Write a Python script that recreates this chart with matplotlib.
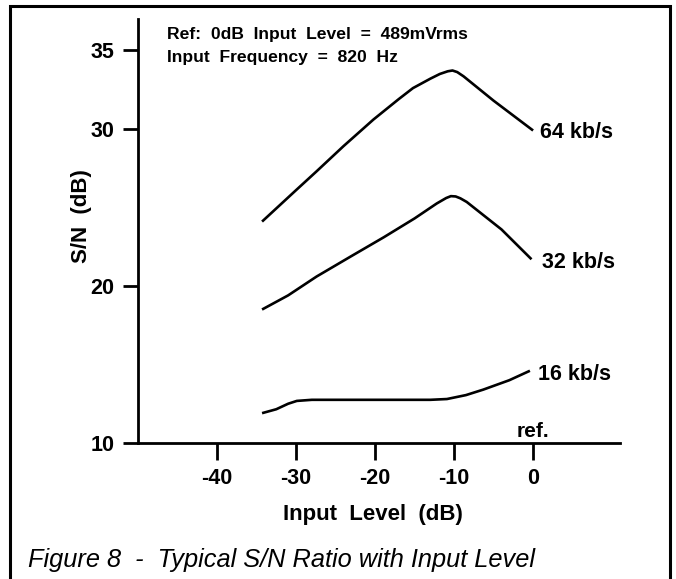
import matplotlib
matplotlib.use("Agg")
import matplotlib.pyplot as plt
from matplotlib.lines import Line2D

plt.rcParams['font.family'] = ['Liberation Sans', 'DejaVu Sans']

# Data (Input level dB, S/N dB)
x64 = [-34.3, -30.0, -27.4, -24.0, -20.2, -17.0, -15.2, -13.0, -11.8, -10.8, -10.2, -9.6, -8.8, -5.0, 0.0]
y64 = [24.1, 26.1, 27.3, 28.9, 30.6, 31.9, 32.6, 33.2, 33.5, 33.67, 33.72, 33.62, 33.35, 31.8, 29.9]

x32 = [-34.3, -31.0, -27.4, -23.0, -18.9, -15.0, -12.2, -11.0, -10.4, -9.8, -9.2, -8.4, -4.0, -0.2]
y32 = [18.5, 19.4, 20.6, 21.9, 23.1, 24.3, 25.25, 25.6, 25.72, 25.7, 25.58, 25.35, 23.6, 21.7]

x16 = [-34.3, -32.5, -31.0, -29.9, -28.0, -20.0, -13.0, -10.9, -8.5, -6.3, -3.0, -0.4]
y16 = [11.9, 12.15, 12.5, 12.68, 12.75, 12.75, 12.75, 12.8, 13.05, 13.4, 14.0, 14.6]

series_labels = ["64 kb/s", "32 kb/s", "16 kb/s"]
xticks = [-40, -30, -20, -10, 0]
yticks = [10, 20, 30, 35]

W, H = 676, 579
fig = plt.figure(figsize=(W / 100, H / 100), dpi=100)

def fx(px):
    return px / W

def fy(py):
    return 1 - py / H

ax = fig.add_axes([fx(138), fy(443), fx(620) - fx(138), fy(19) - fy(443)])
ax.set_xlim(-50, 11)
ax.set_ylim(10, 37)

lw = 1.9
for xs, ys in [(x64, y64), (x32, y32), (x16, y16)]:
    ax.plot(xs, ys, color='black', lw=lw, solid_joinstyle='round', solid_capstyle='butt')

offsets = [(7, -8), (10, -9), (8, -9)]
for (xs, ys), lab, off in zip([(x64, y64), (x32, y32), (x16, y16)], series_labels, offsets):
    ax.annotate(lab, xy=(xs[-1], ys[-1]), xytext=off, textcoords='offset pixels',
                ha='left', va='baseline', fontsize=15.5, fontweight='bold')

ax.annotate("ref.", xy=(0, 10), xytext=(0, 6), textcoords='offset pixels',
            ha='center', va='baseline', fontsize=15, fontweight='bold')

for s in ['top', 'right']:
    ax.spines[s].set_visible(False)
for s in ['left', 'bottom']:
    ax.spines[s].set_linewidth(2.0)

ax.set_xticks(xticks)
ax.set_xticklabels([str(v) for v in xticks])
ax.set_yticks(yticks)
ax.set_yticklabels([str(v) for v in yticks])
ax.tick_params(axis='x', direction='out', length=12, width=2.0, pad=6, labelsize=15.5)
ax.tick_params(axis='y', direction='out', length=11, width=2.0, pad=6, labelsize=15.5)
for t in ax.get_xticklabels() + ax.get_yticklabels():
    t.set_fontweight('bold')

fig.text(fx(373), fy(520), "Input  Level  (dB)", ha='center', va='baseline',
         fontsize=16, fontweight='bold')
fig.text(fx(82), fy(216), "S/N  (dB)", ha='center', va='center', rotation=90,
         fontsize=16, fontweight='bold')

fig.text(fx(167), fy(39), "Ref:  0dB  Input  Level  =  489mVrms", ha='left', va='baseline',
         fontsize=12.6, fontweight='bold')
fig.text(fx(167), fy(62), "Input  Frequency  =  820  Hz", ha='left', va='baseline',
         fontsize=12.6, fontweight='bold')

fig.text(fx(28), fy(567), "Figure 8  -  Typical S/N Ratio with Input Level", ha='left',
         va='baseline', fontsize=18.3, fontstyle='italic')

# outer frame (left, top, right edges)
frame = Line2D([fx(9.5), fx(9.5), fx(669.5), fx(669.5)],
               [fy(585), fy(6), fy(6), fy(585)],
               transform=fig.transFigure, color='black', lw=2.2, solid_joinstyle='miter')
fig.add_artist(frame)

fig.savefig("out.png", dpi=100)
